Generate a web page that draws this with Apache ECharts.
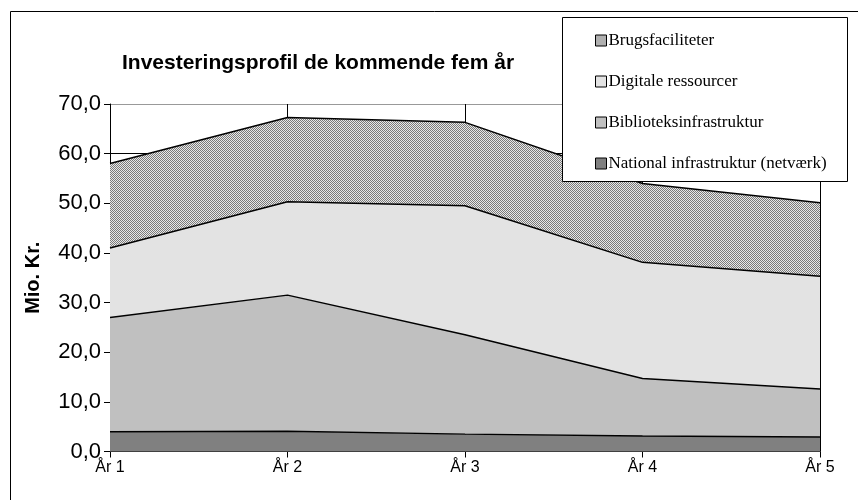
<!DOCTYPE html>
<html>
<head>
<meta charset="utf-8">
<script src="https://cdn.jsdelivr.net/npm/echarts@6/dist/echarts.min.js"></script>
<style>html,body{margin:0;padding:0;background:#fff}#c{width:858px;height:500px}</style>
</head>
<body>
<div id="c"></div>
<script>
var categories = ['År 1', 'År 2', 'År 3', 'År 4', 'År 5'];
var national = [4.0, 4.1, 3.5, 3.1, 2.9];
var bibliotek = [23.0, 27.4, 20.0, 11.6, 9.7];
var digitale = [14.0, 18.8, 26.0, 23.4, 22.7];
var brugs = [17.0, 17.0, 16.8, 15.9, 14.8];
var seriesNames = ['National infrastruktur (netværk)', 'Biblioteksinfrastruktur', 'Digitale ressourcer', 'Brugsfaciliteter'];
var yTicks = [0, 10, 20, 30, 40, 50, 60, 70];

var pc = document.createElement('canvas');
pc.width = 2; pc.height = 2;
var pctx = pc.getContext('2d');
pctx.fillStyle = '#e8e8e8'; pctx.fillRect(0, 0, 2, 2);
pctx.fillStyle = '#7a7a7a'; pctx.fillRect(0, 0, 1, 1); pctx.fillRect(1, 1, 1, 1);
var pattern = { image: pc, repeat: 'repeat' };

var colors = ['#808080', '#c0c0c0', '#e3e3e3', pattern];
var legendColors = ['#808080', '#c0c0c0', '#e3e3e3', '#b0b0b0'];
var datas = [national, bibliotek, digitale, brugs];

var chart = echarts.init(document.getElementById('c'));
var series = datas.map(function (d, i) {
  return {
    name: seriesNames[i],
    type: 'line',
    stack: 'total',
    data: d,
    symbol: 'none',
    color: colors[i],
    lineStyle: { color: '#000', width: 1.5 },
    areaStyle: { color: colors[i], opacity: 1 },
    itemStyle: { color: colors[i], borderColor: '#000', borderWidth: 1 },
    emphasis: { disabled: true },
    z: 2
  };
});

var legendData = seriesNames.map(function (n, i) {
  return { name: n, itemStyle: { color: legendColors[i], borderColor: '#000', borderWidth: 1 } };
}).reverse();

chart.setOption({
  animation: false,
  backgroundColor: '#fff',
  title: {
    text: 'Investeringsprofil de kommende fem år',
    left: 117, top: 48,
    textStyle: { fontFamily: 'Liberation Sans, Arial', fontWeight: 'bold', fontSize: 21, color: '#000' }
  },
  graphic: [
    { type: 'line', shape: { x1: 10.5, y1: 11.5, x2: 858, y2: 11.5 }, style: { stroke: '#000', lineWidth: 1 }, z: 0 },
    { type: 'line', shape: { x1: 10.5, y1: 11.5, x2: 10.5, y2: 500 }, style: { stroke: '#000', lineWidth: 1 }, z: 0 },
    { type: 'rect', shape: { x: 562.5, y: 17.5, width: 285, height: 164 }, style: { fill: '#fff', stroke: '#000', lineWidth: 1 }, z: 10 }
  ],
  legend: {
    data: legendData,
    orient: 'vertical',
    left: 590, top: 27,
    itemGap: 24,
    icon: 'rect',
    itemWidth: 11, itemHeight: 11,
    textStyle: { fontFamily: 'Liberation Serif, Times New Roman', fontSize: 17, color: '#000', padding: [0, 0, 0, -3] },
    z: 20,
    selectedMode: false
  },
  grid: { left: 110, right: 38, top: 104, bottom: 48.5, show: false },
  xAxis: {
    type: 'category',
    data: categories,
    boundaryGap: false,
    axisLine: { lineStyle: { color: '#000', width: 1 } },
    axisTick: { show: true, length: 6, lineStyle: { color: '#000' } },
    axisLabel: { fontFamily: 'Liberation Sans, Arial', fontSize: 16, color: '#000', margin: 8 },
    splitLine: { show: true, lineStyle: { color: '#000', width: 1 } }
  },
  yAxis: {
    type: 'value',
    min: 0, max: 70, interval: 10,
    name: 'Mio. Kr.',
    nameLocation: 'middle',
    nameGap: 67,
    nameTextStyle: { fontFamily: 'Liberation Sans, Arial', fontWeight: 'bold', fontSize: 20, color: '#000' },
    axisLine: { show: true, lineStyle: { color: '#000', width: 1 } },
    axisTick: { show: true, length: 6, lineStyle: { color: '#000' } },
    axisLabel: {
      fontFamily: 'Liberation Sans, Arial', fontSize: 22, color: '#000', margin: 9,
      formatter: function (v) { return yTicks.indexOf(v) >= 0 ? v.toFixed(1).replace('.', ',') : ''; }
    },
    splitLine: { show: true, lineStyle: { color: ['#000', '#000', '#000', '#000', '#000', '#000', '#000', '#999'], width: 1 } }
  },
  series: series
});
</script>
</body>
</html>
